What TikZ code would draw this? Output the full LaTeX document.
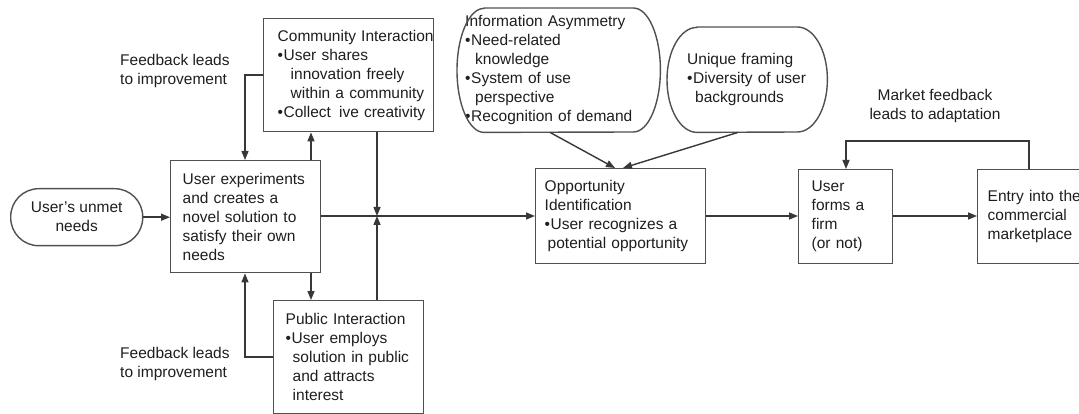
\documentclass[tikz,border=0pt]{standalone}
\usepackage{fontspec}
\setmainfont{Liberation Sans}
\usetikzlibrary{arrows.meta}
\definecolor{textc}{HTML}{1E1E1E}
\definecolor{boxc}{HTML}{505050}
\definecolor{linec}{HTML}{383838}
\newcommand{\bul}{\makebox[6pt][l]{•}}
\begin{document}
\begin{tikzpicture}[x=1pt,y=-1pt,
  every node/.style={font=\fontsize{15.5pt}{19pt}\selectfont, text=textc},
  box/.style={draw=boxc, line width=1.4pt, rectangle, anchor=north west, align=left, inner ysep=0pt},
  bubble/.style={draw=none, rectangle, anchor=north west, align=left, inner ysep=0pt},
  outline/.style={draw=boxc, line width=1.4pt},
  conn/.style={draw=linec, line width=1.4pt},
  arr/.style={conn, -{Triangle[length=9pt,width=7pt]}},
  lbl/.style={anchor=west, align=left, inner sep=0pt}]
\clip (0,0) rectangle (1079,414);
\useasboundingbox (0,0) rectangle (1079,414);

% boxes
\node[box, minimum width=132pt, minimum height=57pt, rounded corners=28pt, align=center] (needs) at (10,188) {User's unmet\\needs};
\node[box, minimum width=150pt, minimum height=112pt, inner xsep=12pt, text width=126pt] (main) at (170,160)
 {\mbox{User experiments}\\\mbox{and creates a}\\\mbox{novel solution to}\\\mbox{satisfy their own}\\\mbox{needs}};
\node[box, minimum width=170pt, minimum height=113pt, inner xsep=14pt, text width=142pt] (comm) at (263,18)
 {\mbox{Community Interaction}\\\mbox{\bul User shares}\\\mbox{\hspace{13pt}innovation freely}\\\mbox{\hspace{13pt}within a community}\\\mbox{\bul Collect\hspace{8pt}ive creativity}};
\node[box, minimum width=150pt, minimum height=113pt, inner xsep=12pt, text width=126pt] (pub) at (273,300)
 {\mbox{Public Interaction}\\\mbox{\bul User employs}\\\mbox{\hspace{7pt}solution in public}\\\mbox{\hspace{7pt}and attracts}\\\mbox{\hspace{7pt}interest}};
\node[box, minimum width=170pt, minimum height=95pt, inner xsep=9pt, text width=152pt] (opp) at (535,168)
 {\mbox{Opportunity}\\\mbox{Identification}\\\mbox{\bul User recognizes a}\\\mbox{\hspace{3pt}potential opportunity}};
\node[box, minimum width=94pt, minimum height=94pt, inner xsep=13pt, text width=68pt] (firm) at (798,169)
 {\mbox{User}\\\mbox{forms a}\\\mbox{firm}\\\mbox{(or not)}};
\node[box, minimum width=130pt, minimum height=94pt, inner xsep=10pt, text width=110pt] (entry) at (977,169)
 {\mbox{Entry into the}\\\mbox{commercial}\\\mbox{marketplace}};

% rounded bubbles
\node[bubble, minimum width=203pt, minimum height=124pt, inner xsep=8pt, text width=187pt] (info) at (457,8)
 {\mbox{Information Asymmetry}\\\mbox{\bul Need-related}\\\mbox{\hspace{10pt}knowledge}\\\mbox{\bul System of use}\\\mbox{\hspace{10pt}perspective}\\\mbox{\bul Recognition of demand}};
\draw[outline] ([xshift=27pt]info.north west) -- ([xshift=-27pt]info.north east)
  arc[start angle=90,end angle=-90,x radius=27pt,y radius=62pt]
  -- ([xshift=27pt]info.south west)
  arc[start angle=270,end angle=90,x radius=27pt,y radius=62pt] -- cycle;
\node[bubble, minimum width=160pt, minimum height=105pt, inner xsep=20pt, text width=120pt] (uniq) at (667,27)
 {\mbox{Unique framing}\\\mbox{\bul Diversity of user}\\\mbox{\hspace{8pt}backgrounds}};
\draw[outline] ([xshift=30pt]uniq.north west) -- ([xshift=-30pt]uniq.north east)
  arc[start angle=90,end angle=-90,x radius=30pt,y radius=52.5pt]
  -- ([xshift=30pt]uniq.south west)
  arc[start angle=270,end angle=90,x radius=30pt,y radius=52.5pt] -- cycle;

% labels
\node[lbl] (fb1) at (120,71) {Feedback leads\\to improvement};
\node[lbl] (fb2) at (120,364) {Feedback leads\\to improvement};
\node[align=center, inner sep=0pt] (mkt) at (935,106) {Market feedback\\leads to adaptation};

% helper coordinates
\coordinate (J) at (377,216);
\coordinate (xup) at (311,0);
\coordinate (xfb) at (245,0);
\coordinate (yc) at (0,75);
\coordinate (yp) at (0,357);
\coordinate (xi) at (550,0);
\coordinate (xio) at (615,0);
\coordinate (xu) at (738,0);
\coordinate (xuo) at (623,0);
\coordinate (xe) at (1029,0);
\coordinate (xf) at (846,0);
\coordinate (yt) at (0,141);

% connectors
\draw[arr] (needs.east) -- (needs.east -| main.west);
\draw[arr] (main.east |- J) -- (opp.west |- J);
\draw[arr] (comm.south -| J) -- (J);
\draw[arr] (pub.north -| J) -- (J);
\draw[arr] (main.north -| xup) -- (comm.south -| xup);
\draw[arr] (comm.west |- yc) -- (xfb |- yc) -- (main.north -| xfb);
\draw[arr] (main.south -| xup) -- (pub.north -| xup);
\draw[arr] (pub.west |- yp) -- (xfb |- yp) -- (main.south -| xfb);
\draw[arr] (info.south -| xi) -- (opp.north -| xio);
\draw[arr] (uniq.south -| xu) -- (opp.north -| xuo);
\draw[arr] (opp.east |- J) -- (firm.west |- J);
\draw[arr] (firm.east |- J) -- (entry.west |- J);
\draw[arr] (entry.north -| xe) |- (xf |- yt) -- (firm.north -| xf);
\end{tikzpicture}
\end{document}
